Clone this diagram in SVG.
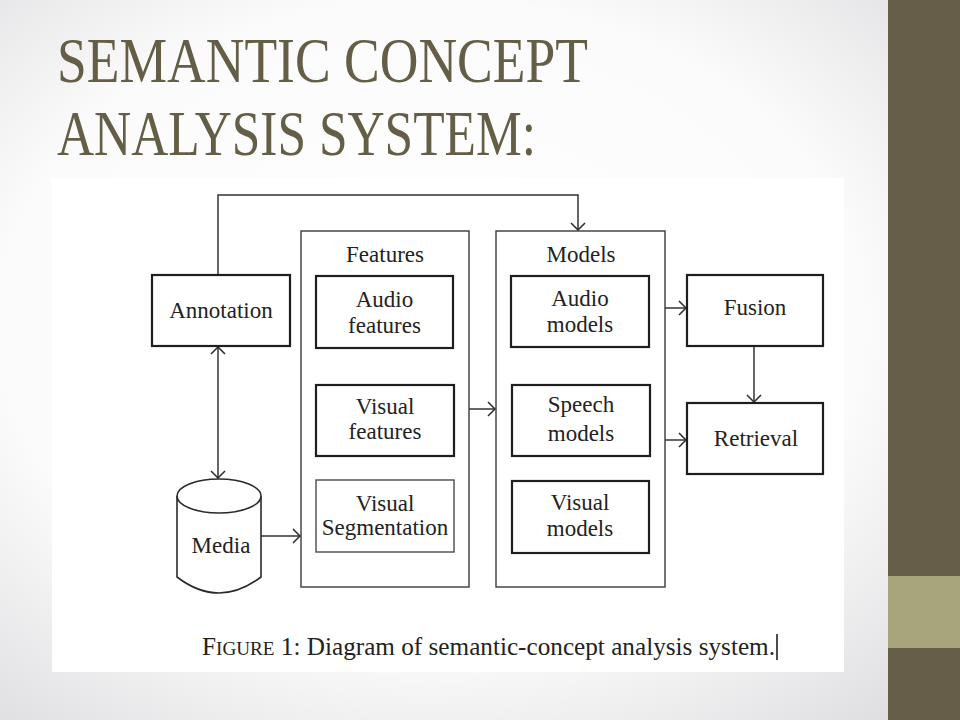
<svg xmlns="http://www.w3.org/2000/svg" width="960" height="720" viewBox="0 0 960 720">
<defs>
<radialGradient id="bg" cx="0.45" cy="0.45" r="0.75">
<stop offset="0" stop-color="#ffffff"/>
<stop offset="0.6" stop-color="#fbfbfb"/>
<stop offset="1" stop-color="#dcdcdf"/>
</radialGradient>
<marker id="arr" viewBox="-9 -9 10 18" refX="0" refY="0" markerWidth="10" markerHeight="18" markerUnits="userSpaceOnUse" orient="auto-start-reverse">
<path d="M-7,-7 L0,0 L-7,7" fill="none" stroke="#2a2a2a" stroke-width="1.5"/>
</marker>
<style>
.t{font-family:"Liberation Serif","Times New Roman",serif;font-size:23px;fill:#222;text-anchor:middle}
.box{fill:#fff;stroke:#1e1e1e;stroke-width:2.2}
.cont{fill:#fff;stroke:#3a3a3a;stroke-width:1.4}
.thin{fill:#fff;stroke:#4a4a4a;stroke-width:1.4}
.ln{fill:none;stroke:#333;stroke-width:1.5}
.title{font-family:"Liberation Serif","Times New Roman",serif;font-size:63px;fill:#655e47}
</style>
</defs>
<rect x="0" y="0" width="960" height="720" fill="url(#bg)"/>
<rect x="888" y="0" width="72" height="720" fill="#665e48"/>
<rect x="888" y="576" width="72" height="72" fill="#a8a57d"/>
<rect x="52" y="178" width="792" height="494" fill="#ffffff"/>
<g id="title">
<text class="title" x="57" y="82" textLength="531" lengthAdjust="spacingAndGlyphs">SEMANTIC CONCEPT</text>
<text class="title" x="57" y="155" textLength="479" lengthAdjust="spacingAndGlyphs">ANALYSIS SYSTEM:</text>
</g>
<g id="connectors">
<path class="ln" d="M218,275 V195 H578 V230" marker-end="url(#arr)"/>
<path class="ln" d="M218,347 V478" marker-start="url(#arr)" marker-end="url(#arr)"/>
<path class="ln" d="M261,536 H300" marker-end="url(#arr)"/>
<path class="ln" d="M469,409 H495" marker-end="url(#arr)"/>
<path class="ln" d="M665,308 H686" marker-end="url(#arr)"/>
<path class="ln" d="M665,440 H686" marker-end="url(#arr)"/>
<path class="ln" d="M754,346 V402" marker-end="url(#arr)"/>
</g>
<g id="annotation">
<rect class="box" x="152" y="275" width="138" height="71"/>
<text class="t" x="221" y="318">Annotation</text>
</g>
<g id="media">
<path d="M177,496 V577 Q219,609 261,577 V496" fill="#fff" stroke="#2a2a2a" stroke-width="1.6"/>
<ellipse cx="219" cy="496" rx="42" ry="17" fill="#fff" stroke="#2a2a2a" stroke-width="1.6"/>
<text class="t" x="221" y="553">Media</text>
</g>
<g id="features">
<rect class="cont" x="301" y="231" width="168" height="356"/>
<text class="t" x="385" y="262">Features</text>
</g>
<g id="audio-features">
<rect class="box" x="316" y="276" width="137" height="72"/>
<text class="t" x="384.5" y="307">Audio</text>
<text class="t" x="384.5" y="333">features</text>
</g>
<g id="visual-features">
<rect class="box" x="316" y="385" width="138" height="71"/>
<text class="t" x="385" y="414">Visual</text>
<text class="t" x="385" y="439">features</text>
</g>
<g id="visual-segmentation">
<rect class="thin" x="316" y="480" width="138" height="72"/>
<text class="t" x="385" y="511">Visual</text>
<text class="t" x="385" y="535">Segmentation</text>
</g>
<g id="models">
<rect class="cont" x="496" y="231" width="169" height="356"/>
<text class="t" x="581" y="262">Models</text>
</g>
<g id="audio-models">
<rect class="box" x="511" y="276" width="138" height="71"/>
<text class="t" x="580" y="306">Audio</text>
<text class="t" x="580" y="332">models</text>
</g>
<g id="speech-models">
<rect class="box" x="512" y="385" width="138" height="71"/>
<text class="t" x="581" y="412">Speech</text>
<text class="t" x="581" y="441">models</text>
</g>
<g id="visual-models">
<rect class="box" x="512" y="481" width="137" height="72"/>
<text class="t" x="580" y="510">Visual</text>
<text class="t" x="580" y="536">models</text>
</g>
<g id="fusion">
<rect class="box" x="687" y="275" width="136" height="71"/>
<text class="t" x="755" y="315">Fusion</text>
</g>
<g id="retrieval">
<rect class="box" x="687" y="403" width="136" height="71"/>
<text class="t" x="756" y="446">Retrieval</text>
</g>
<g id="caption">
<text x="202" y="655" textLength="573" lengthAdjust="spacingAndGlyphs" style="font-family:'Liberation Serif','Times New Roman',serif;font-size:25px;fill:#222">F<tspan font-size="19">IGURE</tspan> 1: Diagram of semantic-concept analysis system.</text>
<line x1="777" y1="634" x2="777" y2="660" stroke="#111" stroke-width="1.5"/>
</g>
</svg>
